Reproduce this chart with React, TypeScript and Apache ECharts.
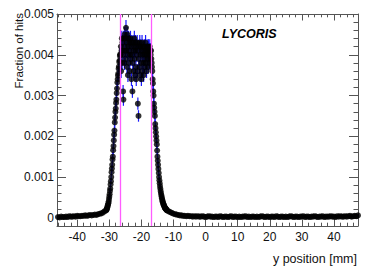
import React, { useEffect, useRef } from "react";
import * as echarts from "echarts";

// ---- data (fraction of hits vs y position) ----
const leftTailStart = -46.0;
const leftTailStep = 0.5;
const leftTail = [
  0.00002, 0.00001, 0.00003, 0.00002, 0.00002, 0.00003, 0.00002, 0.00004, 0.00003, 0.00003,
  0.00004, 0.00003, 0.00005, 0.00004, 0.00004, 0.00005, 0.00005, 0.00006, 0.00005, 0.00006,
  0.00007, 0.00006, 0.00007, 0.00008, 0.00007, 0.00009, 0.0001, 0.00011, 0.00013, 0.00016,
];

const coreStart = -31.0;
const coreStep = 0.1;
const core = [
  // rising edge -31.0 .. -26.6
  0.00018, 0.0002, 0.00021, 0.00024, 0.00026, 0.0003, 0.00032, 0.00036, 0.0004, 0.00046,
  0.00052, 0.00058, 0.00066, 0.00072, 0.00082, 0.0009, 0.001, 0.00112, 0.00121, 0.0013,
  0.00143, 0.0015, 0.00166, 0.00176, 0.0019, 0.00204, 0.00214, 0.00234, 0.00246, 0.0026,
  0.00268, 0.00282, 0.0029, 0.00306, 0.00317, 0.00332, 0.0034, 0.00349, 0.00354, 0.00366,
  0.00371, 0.00382, 0.00386, 0.00397, 0.00401,
  // plateau -26.5 .. -17.0
  0.004, 0.0042, 0.0036, 0.0041, 0.0044, 0.0038, 0.0043, 0.004, 0.0031, 0.0029,
  0.0044, 0.0041, 0.0038, 0.0045, 0.0042, 0.0039, 0.0044, 0.00466, 0.0041, 0.0043,
  0.0037, 0.0045, 0.004, 0.0035, 0.0042, 0.0044, 0.0038, 0.0041, 0.0043, 0.0036,
  0.004, 0.0044, 0.0039, 0.0042, 0.0034, 0.0043, 0.004, 0.0031, 0.0038, 0.0043,
  0.0041, 0.0036, 0.0042, 0.0044, 0.0039, 0.0035, 0.0041, 0.0043, 0.0037, 0.0034,
  0.0042, 0.004, 0.0043, 0.0036, 0.0028, 0.0041, 0.0025, 0.0039, 0.0042, 0.0037,
  0.0043, 0.0035, 0.004, 0.0042, 0.0038, 0.0034, 0.0041, 0.0043, 0.0036, 0.004,
  0.0042, 0.0038, 0.0035, 0.0041, 0.0039, 0.0042, 0.0037, 0.004, 0.0043, 0.0038,
  0.0041, 0.0036, 0.004, 0.0042, 0.0039, 0.0041, 0.0037, 0.0042, 0.004, 0.0038,
  0.0041, 0.0042, 0.0039, 0.0041, 0.004, 0.0041,
  // falling edge -16.9 .. -12.0
  0.0039, 0.0038, 0.0037, 0.0036, 0.0034, 0.0033, 0.0031, 0.003, 0.0028, 0.0027,
  0.0026, 0.0025, 0.0023, 0.0022, 0.0021, 0.002, 0.0019, 0.0018, 0.00165, 0.0015,
  0.0014, 0.0013, 0.0012, 0.0011, 0.001, 0.00092, 0.00085, 0.00078, 0.00072, 0.00066,
  0.00061, 0.00056, 0.00052, 0.00048, 0.00044, 0.00041, 0.00038, 0.00035, 0.00033, 0.00031,
  0.00029, 0.00027, 0.00025, 0.00024, 0.00023, 0.00022, 0.00021, 0.0002, 0.00019, 0.00018,
];

const rightTailStart = -11.5;
const rightTailStep = 0.5;
const rightTail = [
  0.00016, 0.00014, 0.00012, 0.0001, 0.00009, 0.00008, 0.00007, 0.00006, 0.00006, 0.00005,
  0.00005, 0.00004, 0.00005, 0.00004, 0.00004, 0.00003, 0.00004, 0.00003, 0.00004, 0.00003,
  0.00003, 0.00004, 0.00003, 0.00002, 0.00003, 0.00004, 0.00003, 0.00003, 0.00002, 0.00003,
  0.00003, 0.00002, 0.00004, 0.00003, 0.00002, 0.00003, 0.00003, 0.00002, 0.00003, 0.00004,
  0.00002, 0.00003, 0.00003, 0.00002, 0.00003, 0.00002, 0.00003, 0.00003, 0.00004, 0.00002,
  0.00003, 0.00002, 0.00003, 0.00003, 0.00002, 0.00003, 0.00002, 0.00003, 0.00004, 0.00003,
  0.00002, 0.00003, 0.00003, 0.00002, 0.00003, 0.00003, 0.00002, 0.00004, 0.00003, 0.00002,
  0.00003, 0.00003, 0.00002, 0.00003, 0.00002, 0.00003, 0.00004, 0.00003, 0.00002, 0.00003,
  0.00003, 0.00002, 0.00003, 0.00003, 0.00004, 0.00002, 0.00003, 0.00003, 0.00002, 0.00003,
  0.00003, 0.00004, 0.00003, 0.00002, 0.00003, 0.00003, 0.00004, 0.00002, 0.00003, 0.00003,
  0.00003, 0.00004, 0.00003, 0.00003, 0.00002, 0.00004, 0.00003, 0.00004, 0.00003, 0.00003,
  0.00004, 0.00003, 0.00004, 0.00005, 0.00003, 0.00004, 0.00005, 0.00004, 0.00006,
];

const cutLines = [-26.7, -16.8];

const xMin = -46.3;
const xMax = 47.5;
const yMin = -0.0002;
const yMax = 0.005;

const xMajorTicks = [-40, -30, -20, -10, 0, 10, 20, 30, 40];
const xMinorTicks = [
  -46, -44, -42, -38, -36, -34, -32, -28, -26, -24, -22, -18, -16, -14, -12, -8, -6, -4, -2,
  2, 4, 6, 8, 12, 14, 16, 18, 22, 24, 26, 28, 32, 34, 36, 38, 42, 44, 46,
];
const yMajorTicks = [0, 0.001, 0.002, 0.003, 0.004, 0.005];
const yMinorTicks = [
  0.0002, 0.0004, 0.0006, 0.0008, 0.0012, 0.0014, 0.0016, 0.0018, 0.0022, 0.0024, 0.0026,
  0.0028, 0.0032, 0.0034, 0.0036, 0.0038, 0.0042, 0.0044, 0.0046, 0.0048,
];

const xTitle = "y position [mm]";
const yTitle = "Fraction of hits";
const tag = "LYCORIS";

function buildPoints(start: number, step: number, vals: number[]) {
  return vals.map((v, i) => [+(start + i * step).toFixed(2), v]);
}

export default function App() {
  const ref = useRef<HTMLDivElement>(null);
  useEffect(() => {
    if (!ref.current) return;
    const chart = echarts.init(ref.current, null, { renderer: "svg" });
    const points = [
      ...buildPoints(leftTailStart, leftTailStep, leftTail),
      ...buildPoints(coreStart, coreStep, core),
      ...buildPoints(rightTailStart, rightTailStep, rightTail),
    ];
    // Poisson-like statistical uncertainty derived from the values
    const errData = points.map(([x, y]) => [x, y, Math.sqrt(y * 8e-6)]);
    const font = "Liberation Sans, Arial, Helvetica, sans-serif";
    const frameColor = "#555";
    const labelColor = "#111";

    const xAxisBase = {
      type: "value",
      min: xMin,
      max: xMax,
      splitLine: { show: false },
      gridIndex: 0,
    };
    const yAxisBase = {
      type: "value",
      min: yMin,
      max: yMax,
      splitLine: { show: false },
      gridIndex: 0,
    };
    const line = (show: boolean) => ({
      show,
      onZero: false,
      lineStyle: { color: frameColor, width: 1 },
    });
    const tick = (len: number, vals: number[]) => ({
      show: true,
      inside: true,
      length: len,
      customValues: vals,
      lineStyle: { color: frameColor, width: 1 },
    });

    chart.setOption({
      animation: false,
      grid: { left: 57, top: 14, right: 17, bottom: 46, containLabel: false },
      xAxis: [
        {
          ...xAxisBase,
          position: "bottom",
          axisLine: line(true),
          axisTick: tick(6.5, xMajorTicks),
          axisLabel: {
            show: true,
            customValues: xMajorTicks,
            margin: 5,
            fontSize: 12,
            fontFamily: font,
            color: labelColor,
          },
        },
        {
          ...xAxisBase,
          position: "bottom",
          axisLine: line(false),
          axisTick: tick(3.3, xMinorTicks),
          axisLabel: { show: false },
        },
        {
          ...xAxisBase,
          position: "top",
          axisLine: line(true),
          axisTick: tick(6.5, xMajorTicks),
          axisLabel: { show: false },
        },
        {
          ...xAxisBase,
          position: "top",
          axisLine: line(false),
          axisTick: tick(3.3, xMinorTicks),
          axisLabel: { show: false },
        },
      ],
      yAxis: [
        {
          ...yAxisBase,
          position: "left",
          axisLine: line(true),
          axisTick: tick(9, yMajorTicks),
          axisLabel: {
            show: true,
            customValues: yMajorTicks,
            margin: 3,
            fontSize: 12,
            fontFamily: font,
            color: labelColor,
            formatter: (v: number) => (Math.abs(v) < 1e-12 ? "0" : v.toFixed(3)),
          },
        },
        {
          ...yAxisBase,
          position: "left",
          axisLine: line(false),
          axisTick: tick(4.5, yMinorTicks),
          axisLabel: { show: false },
        },
        {
          ...yAxisBase,
          position: "right",
          axisLine: line(true),
          axisTick: tick(9, yMajorTicks),
          axisLabel: { show: false },
        },
        {
          ...yAxisBase,
          position: "right",
          axisLine: line(false),
          axisTick: tick(4.5, yMinorTicks),
          axisLabel: { show: false },
        },
      ],
      series: [
        {
          type: "custom",
          xAxisIndex: 0,
          yAxisIndex: 0,
          data: errData,
          encode: { x: 0, y: 1 },
          z: 1,
          silent: true,
          renderItem: (_p: any, api: any) => {
            const x = api.value(0);
            const y = api.value(1);
            const e = api.value(2);
            const top = api.coord([x, y + e]);
            const bot = api.coord([x, y - e]);
            return {
              type: "line",
              shape: { x1: top[0], y1: top[1], x2: bot[0], y2: bot[1] },
              style: { stroke: "#1a1aff", lineWidth: 1.2 },
            };
          },
        },
        {
          type: "scatter",
          xAxisIndex: 0,
          yAxisIndex: 0,
          data: points,
          symbol: "circle",
          symbolSize: 6,
          itemStyle: { color: "#000" },
          z: 2,
          silent: true,
        },
        {
          type: "scatter",
          xAxisIndex: 0,
          yAxisIndex: 0,
          data: [],
          z: 4,
          silent: true,
          markLine: {
            silent: true,
            symbol: "none",
            label: { show: false },
            lineStyle: { color: "#ff5cff", width: 1.3, type: "solid" },
            data: cutLines.map((v) => ({ xAxis: v })),
          },
        },
      ],
      graphic: [
        {
          type: "text",
          x: 19,
          y: 13,
          rotation: Math.PI / 2,
          style: {
            text: yTitle,
            align: "right",
            verticalAlign: "middle",
            fontSize: 11.5,
            fontFamily: font,
            fill: labelColor,
          },
        },
        {
          type: "text",
          x: 357,
          y: 259,
          style: {
            text: xTitle,
            align: "right",
            verticalAlign: "middle",
            fontSize: 12.5,
            fontFamily: font,
            fill: labelColor,
          },
        },
        {
          type: "text",
          x: 222,
          y: 34,
          style: {
            text: tag,
            align: "left",
            verticalAlign: "middle",
            fontSize: 12.5,
            fontWeight: "bold",
            fontStyle: "italic",
            fontFamily: font,
            fill: "#000",
          },
        },
      ],
    });
    return () => chart.dispose();
  }, []);

  return (
    <div
      ref={ref}
      style={{ position: "fixed", left: 0, top: 0, width: 375, height: 272, background: "#fff" }}
    />
  );
}
